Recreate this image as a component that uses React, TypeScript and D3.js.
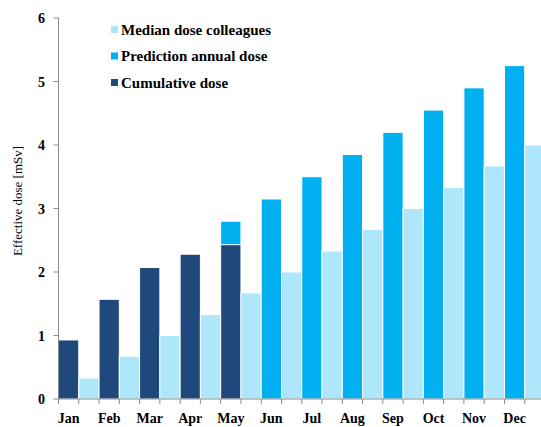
import * as d3 from "d3";

const months = ["Jan", "Feb", "Mar", "Apr", "May", "Jun", "Jul", "Aug", "Sep", "Oct", "Nov", "Dec"];
const cumulative = [0.93, 1.57, 2.07, 2.28, 2.43, 0, 0, 0, 0, 0, 0, 0];
const prediction = [0, 0, 0, 0, 2.8, 3.15, 3.5, 3.85, 4.2, 4.55, 4.9, 5.25];
const median = [0.33, 0.67, 1.0, 1.33, 1.67, 2.0, 2.33, 2.67, 3.0, 3.33, 3.67, 4.0];
const yTicks = [0, 1, 2, 3, 4, 5, 6];

const legendItems = [
  { label: "Median dose colleagues", color: "#aee7fb" },
  { label: "Prediction annual dose", color: "#00b0f0" },
  { label: "Cumulative dose", color: "#1f497d" },
];

export default function App() {
  const width = 541;
  const height = 427;
  const left = 58.5;
  const right = 545;
  const top = 18;
  const bottom = 399;

  const x = d3.scaleBand<string>().domain(months).range([left, right]).padding(0);
  const y = d3.scaleLinear().domain([0, 6]).range([bottom, top]);
  const half = x.bandwidth() / 2;

  // bold serif, like the original's Times labels
  const bold = { fontFamily: "'Liberation Serif'", fontSize: 14, fontWeight: "bold" as const };
  const regular = { fontFamily: "'Liberation Serif'", fontSize: 13 };

  return (
    <svg width={width} height={height} style={{ position: "absolute", left: 0, top: 0, background: "#fff" }}>
      {months.map((m, i) => {
        const x0 = x(m)!;
        return (
          <g key={m}>
            {prediction[i] > 0 && (
              <rect x={x0} y={y(prediction[i])} width={half} height={bottom - y(prediction[i])}
                fill="#00b0f0" stroke="#fff" strokeWidth={1} />
            )}
            {cumulative[i] > 0 && (
              <rect x={x0} y={y(cumulative[i])} width={half} height={bottom - y(cumulative[i])}
                fill="#1f497d" stroke="#fff" strokeWidth={1} />
            )}
            <rect x={x0 + half} y={y(median[i])} width={half} height={bottom - y(median[i])}
              fill="#aee7fb" stroke="#fff" strokeWidth={1} />
            <text x={x0 + half / 2} y={423} textAnchor="middle" style={bold}>
              {m}
            </text>
          </g>
        );
      })}

      {/* axes */}
      <line x1={left} x2={left} y1={top} y2={bottom} stroke="#8c8c8c" strokeWidth={1} />
      <line x1={left} x2={right} y1={bottom} y2={bottom} stroke="#8c8c8c" strokeWidth={1} />
      {yTicks.map((t) => (
        <g key={t}>
          <line x1={left - 5} x2={left} y1={y(t)} y2={y(t)} stroke="#8c8c8c" />
          <text x={45} y={y(t) + 5} textAnchor="end" style={bold}>
            {t}
          </text>
        </g>
      ))}
      {d3.range(25).map((k) => {
        const px = left + k * half;
        return <line key={k} x1={px} x2={px} y1={bottom} y2={bottom + 5} stroke="#8c8c8c" />;
      })}

      <text transform={`translate(22,201) rotate(-90)`} textAnchor="middle" style={regular}>
        Effective dose [mSv]
      </text>

      {legendItems.map((d, i) => (
        <g key={d.label} transform={`translate(111,${26 + i * 26.5})`}>
          <rect x={0} y={0} width={7} height={7} fill={d.color} />
          <text x={10} y={8.5} style={{ ...bold, fontSize: 15 }}>
            {d.label}
          </text>
        </g>
      ))}
    </svg>
  );
}
